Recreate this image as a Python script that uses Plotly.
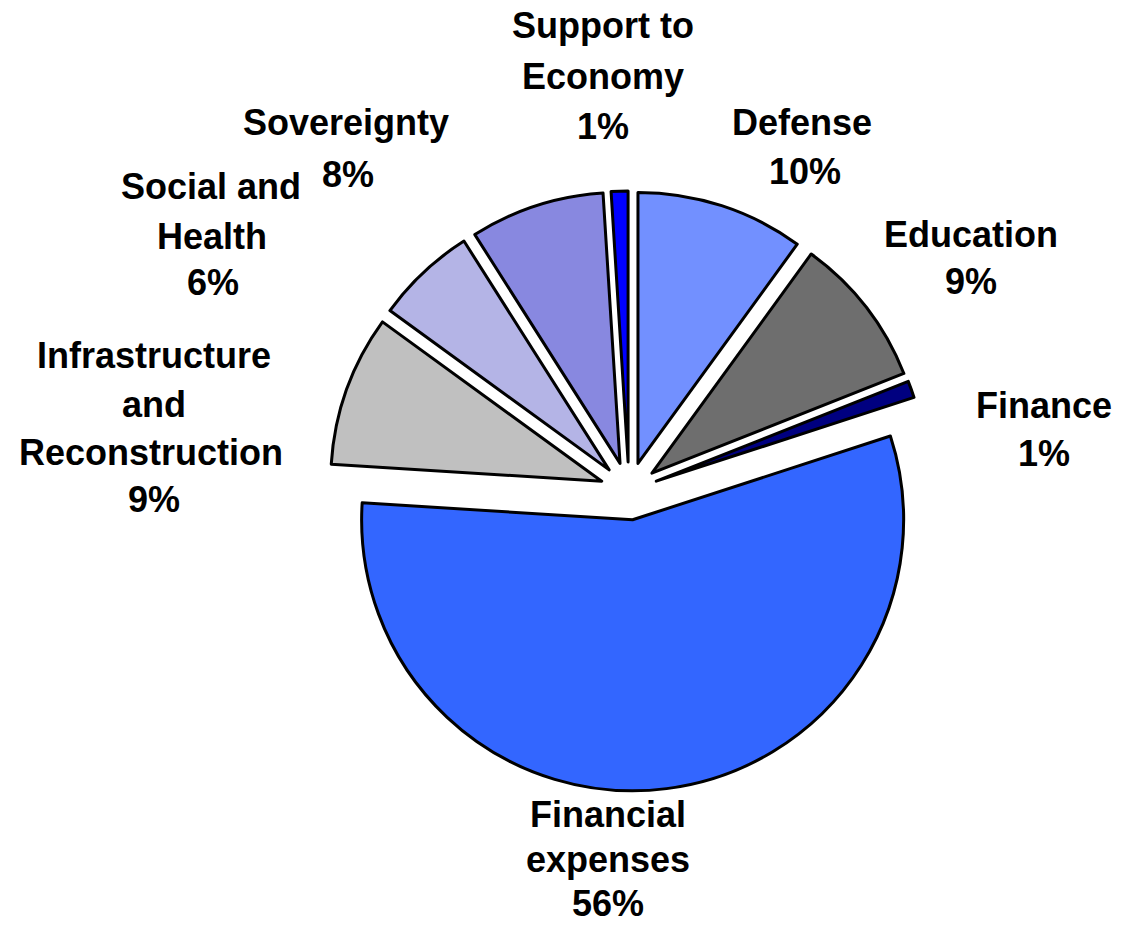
import plotly.graph_objects as go

# Budget shares, listed clockwise starting at 12 o'clock
labels = ["Defense", "Education", "Finance", "Financial expenses",
          "Infrastructure and Reconstruction", "Social and Health",
          "Sovereignty", "Support to Economy"]
shares = [10, 9, 1, 56, 9, 6, 8, 1]
colors = ["#7290FF", "#6E6E6E", "#000080", "#3366FF",
          "#C0C0C0", "#B4B4E6", "#8888E0", "#0000FF"]

# Label text broken into lines (the percentage line is appended from shares)
label_lines = {
    "Defense": ["Defense"],
    "Education": ["Education"],
    "Finance": ["Finance"],
    "Financial expenses": ["Financial", "expenses"],
    "Infrastructure and Reconstruction": ["Infrastructure", "and", "Reconstruction"],
    "Social and Health": ["Social and", "Health"],
    "Sovereignty": ["Sovereignty"],
    "Support to Economy": ["Support to", "Economy"],
}

# Label placement in page pixels: (x centre, y centre) of each line
W, H = 1124, 927
label_pos = {
    "Defense": [(802, 122), (805, 172)],
    "Education": [(971, 234), (971, 281)],
    "Finance": [(1044, 405), (1044, 453)],
    "Financial expenses": [(608, 814), (608, 859), (608, 903)],
    "Infrastructure and Reconstruction": [(154, 356), (154, 404), (151, 452), (154, 499)],
    "Social and Health": [(211, 187), (212, 237), (213, 283)],
    "Sovereignty": [(346, 122), (348, 174)],
    "Support to Economy": [(603, 26), (603, 76), (603, 127)],
}

FONT = dict(family="Liberation Sans, Arial, sans-serif", size=36, color="black")

# Pie geometry (pixels): centre, radius and explode distance
cx, cy, r, gap = 629, 491, 271, 29
pull = gap / r
half = r * (1 + pull)

fig = go.Figure(go.Pie(
    labels=labels,
    values=shares,
    sort=False,
    direction="clockwise",
    rotation=0,
    pull=[pull] * len(shares),
    marker=dict(colors=colors, line=dict(color="black", width=3)),
    textinfo="none",
    hoverinfo="label+percent",
    showlegend=False,
    domain=dict(x=[(cx - half) / W, (cx + half) / W],
                y=[1 - (cy + half) / H, 1 - (cy - half) / H]),
))

annotations = []
for name, v in zip(labels, shares):
    lines = label_lines[name] + [f"{v}%"]
    for txt, (x, y) in zip(lines, label_pos[name]):
        annotations.append(dict(
            x=x / W, y=1 - y / H, xref="paper", yref="paper",
            text=f"<b>{txt}</b>", showarrow=False,
            xanchor="center", yanchor="middle", font=FONT,
        ))

fig.update_layout(
    width=W, height=H,
    margin=dict(l=0, r=0, t=0, b=0),
    paper_bgcolor="white",
    plot_bgcolor="white",
    annotations=annotations,
)

fig.write_html("out.html")
